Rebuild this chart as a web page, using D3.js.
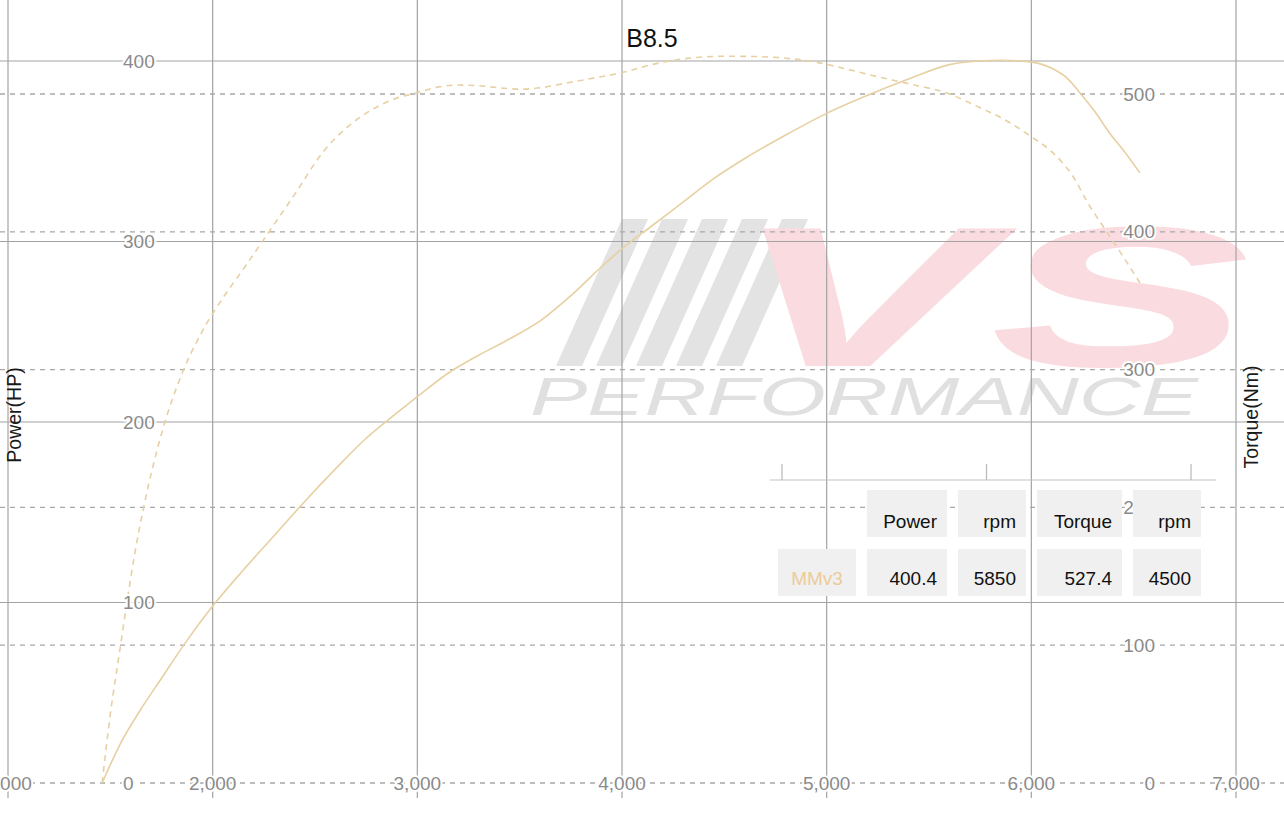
<!DOCTYPE html>
<html>
<head>
<meta charset="utf-8">
<script src="https://cdn.jsdelivr.net/npm/d3@7"></script>
<style>
  html, body { margin: 0; padding: 0; background: #fff; }
  svg { display: block; }
  text { font-family: "Liberation Sans", Arial, Helvetica, sans-serif; }
</style>
</head>
<body>
<svg id="chart" width="1284" height="822"></svg>
<script>
// ---------- data ----------
const chartTitle = "B8.5";
const seriesName = "MMv3";
const rpmTicks = [1000, 2000, 3000, 4000, 5000, 6000, 7000];
const powerTicks = [0, 100, 200, 300, 400];
const torqueTicks = [0, 100, 200, 300, 400, 500];

const powerRpm = [1460, 1550, 1650, 1750, 1850, 2000, 2150, 2300, 2450, 2600, 2750, 2900, 3000, 3150, 3300, 3450, 3600, 3750, 3900, 4000, 4150, 4300, 4450, 4600, 4800, 5000, 5200, 5400, 5600, 5750, 5850, 6000, 6100, 6180, 6240, 6310, 6383, 6460, 6530];
const powerHp  = [0, 22, 41, 58, 75, 98, 118, 137, 156, 174, 191, 205, 214, 227, 237, 246, 256, 270, 286, 296, 309, 322, 335, 346, 359, 371, 381, 390, 398, 400, 400.4, 399.4, 396, 390, 382, 372, 360, 349, 338];

const torqueRpm = [1460, 1500, 1545, 1580, 1620, 1660, 1755, 1850, 1950, 2050, 2150, 2280, 2400, 2540, 2650, 2760, 2880, 3000, 3100, 3200, 3300, 3400, 3500, 3600, 3730, 3860, 4000, 4150, 4300, 4500, 4650, 4800, 4950, 5100, 5250, 5400, 5600, 5750, 5850, 6000, 6100, 6200, 6280, 6350, 6440, 6530];
const torqueNm  = [0, 50, 95, 130, 167, 198, 256, 297, 328, 352, 373, 401, 427, 458, 475, 487, 496, 501, 505, 506.5, 506, 504.5, 503.5, 504.5, 508, 511.5, 515.5, 521.5, 525.5, 527.4, 527.2, 526, 523, 518, 512.5, 507.5, 500, 490, 483, 469, 458, 441, 420, 404, 384, 363];

const tableHeaders = ["Power", "rpm", "Torque", "rpm"];
const tableValues  = ["400.4", "5850", "527.4", "4500"];

// ---------- layout ----------
const svg = d3.select("#chart");
const W = 1284, H = 822;
const lineColor = "#e7d0a2";
const gridColor = "#a3a3a3";
const labelColor = "#8a8a8a";

const x  = d3.scaleLinear().domain([1000, 7000]).range([8, 1236]);
const yP = d3.scaleLinear().domain([0, 400]).range([783, 61]);
const yT = d3.scaleLinear().domain([0, 500]).range([783, 94]);

// ---------- watermark ----------
const wm = svg.append("g").attr("class", "watermark");
d3.range(5).forEach(i => {
  const bx = 556 + i * 40;
  wm.append("polygon")
    .attr("points", `${bx},366 ${bx + 26},366 ${bx + 92},219 ${bx + 66},219`)
    .attr("fill", "#d9d9d9").attr("opacity", 0.75);
});
wm.append("text")
  .attr("x", 730).attr("y", 366)
  .attr("font-size", 200).attr("font-weight", "bold").attr("font-style", "italic")
  .attr("textLength", 520).attr("lengthAdjust", "spacingAndGlyphs")
  .attr("fill", "#fadbe0")
  .text("VS");
wm.append("text")
  .attr("x", 530).attr("y", 415)
  .attr("font-size", 54).attr("font-style", "italic")
  .attr("textLength", 668).attr("lengthAdjust", "spacingAndGlyphs")
  .attr("fill", "#e0e0e0")
  .text("PERFORMANCE");

// ---------- grid ----------
const grid = svg.append("g");
grid.selectAll("line.v").data(rpmTicks).join("line")
  .attr("x1", d => x(d)).attr("x2", d => x(d))
  .attr("y1", 0).attr("y2", 798)
  .attr("stroke", gridColor).attr("stroke-width", 1.2);

grid.selectAll("line.hp").data(powerTicks.filter(d => d > 0)).join("line")
  .attr("x1", 0).attr("x2", W)
  .attr("y1", d => yP(d)).attr("y2", d => yP(d))
  .attr("stroke", gridColor).attr("stroke-width", 1.2);

grid.selectAll("line.ht").data(torqueTicks).join("line")
  .attr("x1", 0).attr("x2", W)
  .attr("y1", d => yT(d)).attr("y2", d => yT(d))
  .attr("stroke", "#a8a8a8").attr("stroke-width", 1.3)
  .attr("stroke-dasharray", "5,5");

// stray small axis above legend
const strayScale = d3.scaleLinear().domain([0, 2]).range([782, 1191]);
const stray = svg.append("g").attr("transform", "translate(0,480)");
stray.append("line").attr("x1", 770).attr("x2", 1216).attr("y1", 0).attr("y2", 0)
  .attr("stroke", "#c4c4c4").attr("stroke-width", 1.2);
stray.selectAll("line.t").data([0, 1, 2]).join("line")
  .attr("x1", d => strayScale(d)).attr("x2", d => strayScale(d))
  .attr("y1", -16).attr("y2", 0)
  .attr("stroke", "#b8b8b8").attr("stroke-width", 1.2);

// ---------- curves ----------
const powerData = powerRpm.map((r, i) => [r, powerHp[i]]);
const torqueData = torqueRpm.map((r, i) => [r, torqueNm[i]]);

svg.append("path")
  .datum(torqueData)
  .attr("fill", "none").attr("stroke", lineColor).attr("stroke-width", 1.6)
  .attr("stroke-dasharray", "6,5")
  .attr("d", d3.line().x(d => x(d[0])).y(d => yT(d[1])).curve(d3.curveMonotoneX));

svg.append("path")
  .datum(powerData)
  .attr("fill", "none").attr("stroke", lineColor).attr("stroke-width", 1.6)
  .attr("d", d3.line().x(d => x(d[0])).y(d => yP(d[1])).curve(d3.curveMonotoneX));

// ---------- labels ----------
function haloText(sel) {
  return sel.attr("stroke", "#fff").attr("stroke-width", 4).attr("paint-order", "stroke")
    .attr("stroke-linejoin", "round");
}

const lab = svg.append("g").attr("font-size", 19).attr("fill", labelColor);
haloText(lab.selectAll("text.x").data(rpmTicks).join("text")
  .attr("x", d => x(d)).attr("y", 783).attr("dy", "0.35em")
  .attr("text-anchor", "middle")
  .text(d => d3.format(",")(d)));

haloText(lab.selectAll("text.p").data(powerTicks).join("text")
  .attr("x", 123).attr("y", d => yP(d)).attr("dy", "0.35em")
  .attr("text-anchor", "start")
  .text(d => d));

haloText(lab.selectAll("text.t").data(torqueTicks).join("text")
  .attr("x", 1155).attr("y", d => yT(d)).attr("dy", "0.35em")
  .attr("text-anchor", "end")
  .text(d => d));

// axis titles
svg.append("text")
  .attr("transform", "translate(21,415) rotate(-90)")
  .attr("text-anchor", "middle").attr("font-size", 19.5).attr("fill", "#1a1a1a")
  .text("Power(HP)");
svg.append("text")
  .attr("transform", "translate(1258,417) rotate(-90)")
  .attr("text-anchor", "middle").attr("font-size", 19.5).attr("fill", "#1a1a1a")
  .text("Torque(Nm)");

// title
svg.append("text")
  .attr("x", 652).attr("y", 47)
  .attr("text-anchor", "middle").attr("font-size", 25).attr("fill", "#111")
  .text(chartTitle);

// ---------- legend table ----------
const colX = [867, 958, 1037, 1133];
const colW = [80, 68, 85, 68];
const table = svg.append("g");
table.selectAll("rect.h").data(tableHeaders).join("rect")
  .attr("x", (d, i) => colX[i]).attr("y", 490)
  .attr("width", (d, i) => colW[i]).attr("height", 47)
  .attr("fill", "#f0f0f0");
table.selectAll("rect.v").data(tableValues).join("rect")
  .attr("x", (d, i) => colX[i]).attr("y", 549)
  .attr("width", (d, i) => colW[i]).attr("height", 47)
  .attr("fill", "#f0f0f0");
table.append("rect").attr("x", 778).attr("y", 549).attr("width", 78).attr("height", 47)
  .attr("fill", "#f0f0f0");

table.selectAll("text.h").data(tableHeaders).join("text")
  .attr("x", (d, i) => colX[i] + colW[i] - 10).attr("y", 528)
  .attr("text-anchor", "end").attr("font-size", 19).attr("fill", "#111")
  .text(d => d);
table.selectAll("text.v").data(tableValues).join("text")
  .attr("x", (d, i) => colX[i] + colW[i] - 10).attr("y", 585)
  .attr("text-anchor", "end").attr("font-size", 19).attr("fill", "#111")
  .text(d => d);
table.append("text")
  .attr("x", 817).attr("y", 585).attr("text-anchor", "middle")
  .attr("font-size", 19).attr("fill", "#eccb98")
  .text(seriesName);
</script>
</body>
</html>
